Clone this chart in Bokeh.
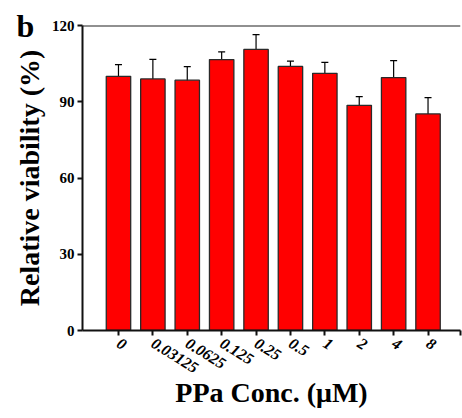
from bokeh.plotting import figure
from bokeh.models import (ColumnDataSource, Range1d, FixedTicker, Whisker, TeeHead,
                          Span, Title)
from bokeh.embed import file_html
from bokeh.resources import INLINE

categories = ["0", "0.03125", "0.0625", "0.125", "0.25", "0.5", "1", "2", "4", "8"]
viability = [100.0, 99.0, 98.5, 106.6, 110.6, 103.9, 101.2, 88.6, 99.5, 85.2]
errors = [4.6, 7.7, 5.3, 3.0, 5.8, 2.1, 4.3, 3.4, 6.7, 6.4]
y_ticks = [0, 30, 60, 90, 120]

FONT = "Liberation Serif"

xs = list(range(len(categories)))
src = ColumnDataSource(dict(
    x=xs,
    top=viability,
    upper=[v + e for v, e in zip(viability, errors)],
    lower=[v - e for v, e in zip(viability, errors)],
))

x_start = -1.046
x_end = len(categories) - 1 + 0.944
y_end = 120

p = figure(width=462, height=418, output_backend="svg", toolbar_location=None,
           x_range=Range1d(x_start, x_end), y_range=Range1d(0, y_end),
           min_border_left=82, min_border_right=2, min_border_top=25,
           min_border_bottom=88)
p.title = Title(text="b", align="left", offset=-66, standoff=-37,
                text_font=FONT, text_font_style="bold", text_font_size="32px",
                text_color="black")
p.outline_line_color = None
p.xgrid.visible = False
p.ygrid.visible = False
p.background_fill_color = "white"
p.border_fill_color = "white"

p.vbar(x="x", top="top", width=0.71, source=src, fill_color="#FF0000",
       line_color="#2a2a2a", line_width=1.3)

w = Whisker(base="x", upper="upper", lower="lower", source=src,
            line_color="black", line_width=1.2,
            upper_head=TeeHead(size=7, line_color="black", line_width=1.2),
            lower_head=TeeHead(size=7, line_color="black", line_width=1.2))
p.add_layout(w)

p.add_layout(Span(location=y_end, dimension="width", line_color="#222222", line_width=2))

# x axis
p.xaxis.ticker = FixedTicker(ticks=xs + [x_end])
overrides = {i: c for i, c in zip(xs, categories)}
overrides[x_end] = ""
p.xaxis.major_label_overrides = overrides
p.xaxis.major_label_orientation = -0.56
p.xaxis.major_label_text_font = FONT
p.xaxis.major_label_text_font_style = "bold italic"
p.xaxis.major_label_text_font_size = "16px"
p.xaxis.major_label_standoff = 6
p.xaxis.axis_label = "PPa Conc. (\u03bcM)"
p.xaxis.axis_label_text_font = FONT
p.xaxis.axis_label_text_font_style = "bold"
p.xaxis.axis_label_text_font_size = "28px"
p.xaxis.axis_label_standoff = -4

# y axis
p.yaxis.ticker = FixedTicker(ticks=y_ticks)
p.yaxis.major_label_text_font = FONT
p.yaxis.major_label_text_font_style = "bold"
p.yaxis.major_label_text_font_size = "15px"
p.yaxis.major_label_standoff = 3
p.yaxis.axis_label = "Relative viability (%)"
p.yaxis.axis_label_text_font = FONT
p.yaxis.axis_label_text_font_style = "bold"
p.yaxis.axis_label_text_font_size = "28px"
p.yaxis.axis_label_standoff = 4

for ax in (p.xaxis, p.yaxis):
    ax.axis_line_width = 2
    ax.axis_line_color = "#111111"
    ax.major_tick_line_width = 2
    ax.major_tick_line_color = "#111111"
    ax.major_tick_in = 0
    ax.major_tick_out = 5
    ax.minor_tick_line_color = None
    ax.major_label_text_color = "black"
    ax.axis_label_text_color = "black"

open("out.html", "w").write(file_html(p, INLINE))
